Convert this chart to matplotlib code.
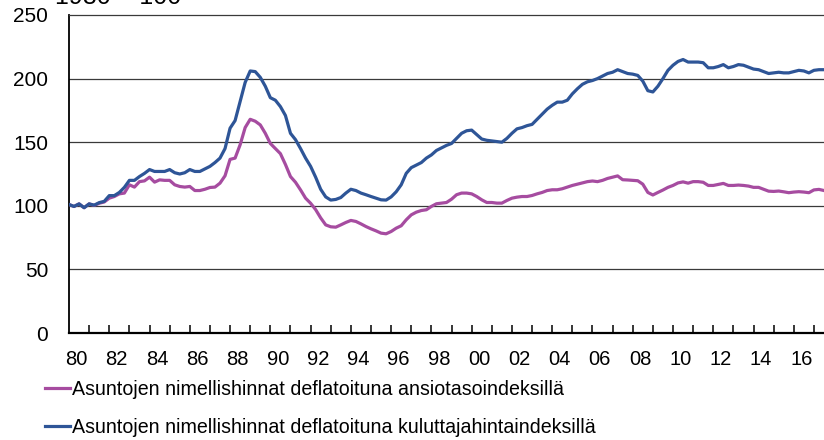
import matplotlib
matplotlib.use("Agg")
import matplotlib.pyplot as plt
from matplotlib import font_manager
from matplotlib.lines import Line2D
import numpy as np

# FONTS (ARIAL / ARIAL NARROW LOOK-ALIKES)
names = {f.name for f in font_manager.fontManager.ttflist}
regular = "Liberation Sans" if "Liberation Sans" in names else "DejaVu Sans"
narrow = "Liberation Sans Narrow" if "Liberation Sans Narrow" in names else regular

# DATA : QUARTERLY INDEX 1980 = 100 , 1980Q1 - 2017Q3
start_year = 1980
# deflated with earnings index (ansiotasoindeksi)
earn = [101, 99.5, 101.5, 98.5,
        101.5, 100.3, 102, 103,
        106, 107.3, 109.4, 110,
        116.5, 114.7, 119, 119.6,
        122.5, 118.6, 120.4, 120,
        120, 116.5, 115.2, 114.7,
        115.2, 112, 112, 113,
        114.4, 114.7, 117.8, 123.6,
        136.5, 137.5, 148, 161.5,
        168, 166.5, 163.6, 157,
        149, 145, 141, 132.5,
        123, 118.5, 112.5, 106,
        102, 97, 90.5, 85,
        83.5, 83.2, 85, 86.9,
        88.5, 87.7, 85.8, 83.7,
        81.9, 80.3, 78.5, 78,
        79.8, 82.4, 84.3, 89,
        92.9, 95, 96.3, 96.9,
        99.5, 101.6, 102.1, 102.6,
        105.2, 108.7, 110, 110,
        109.4, 107.3, 104.7, 102.6,
        102.6, 102.1, 102.1, 104.2,
        106, 106.8, 107.3, 107.3,
        108.1, 109.4, 110.5, 112,
        112.6, 112.6, 113.4, 114.7,
        116, 117, 118, 119,
        119.5, 119, 120, 121.5,
        122.5, 123.5, 120.5, 120.3,
        120, 119.7, 117, 110.5,
        108.5, 110.5, 112.4, 114.5,
        116, 118, 118.8, 117.8,
        119, 119, 118.5, 116,
        116, 116.8, 117.6, 116,
        116, 116.3, 116, 115.5,
        114.5, 114.5, 113, 111.5,
        111.3, 111.6, 111, 110.3,
        110.8, 111.1, 110.8, 110.3,
        112.5, 112.9, 112]
# deflated with consumer price index (kuluttajahintaindeksi)
cpi = [101, 99.5, 101.5, 98.5,
       101.5, 100.5, 102.5, 103.5,
       108, 108, 110.5, 114.5,
       120, 120, 123, 125.5,
       128.5, 127, 127, 127,
       128.5, 126, 125, 126,
       128.5, 127, 127, 129,
       131, 134, 137.5, 145,
       161, 167, 182, 197,
       206, 205.5, 201, 194,
       185, 183, 178, 171,
       157, 152, 145, 137.5,
       131, 122.5, 113, 107,
       104.5, 105, 106.5, 110,
       113, 112, 110, 108.7,
       107.3, 106, 104.7, 104.5,
       107, 111, 116.5, 125.5,
       130, 132, 134, 137.5,
       140, 143.5, 145.5, 147.5,
       149, 153, 157, 159,
       159.5, 156, 152.5, 151.5,
       151, 150.5, 150, 153,
       157, 160.5, 161.5, 163,
       164, 168, 172, 176,
       179, 181.5, 181.5, 183,
       188, 192, 195.5, 197.5,
       198.5, 200, 202, 204,
       205, 207, 205.5, 204,
       203.5, 202.5, 198, 190.5,
       189.5, 194, 200, 206.5,
       210.5, 213.5, 215, 213,
       213, 213, 212.5, 208.5,
       208.5, 209.5, 211, 208.5,
       209.5, 211, 210.5, 209,
       207.5, 207, 205.5, 204,
       204.5, 205, 204.5, 204.5,
       205.5, 206.5, 206, 204.5,
       206.5, 207, 207]

label_earn = "Asuntojen nimellishinnat deflatoituna ansiotasoindeksillä"
label_cpi = "Asuntojen nimellishinnat deflatoituna kuluttajahintaindeksillä"
year_labels = ["80", "82", "84", "86", "88", "90", "92", "94", "96", "98",
               "00", "02", "04", "06", "08", "10", "12", "14", "16"]
yticks = [0, 50, 100, 150, 200, 250]

col_earn = "#A64CA0"
col_cpi = "#2E5597"

# TIME AXIS
t = start_year + np.arange(len(cpi)) / 4.0

W, H = 824, 440
fig = plt.figure(figsize=(W / 100, H / 100), dpi=100)
ax = fig.add_axes([69 / W, 1 - 333 / H, 1 - 69 / W, (333 - 15) / H])

ax.plot(t, earn, color=col_earn, lw=2.3, solid_joinstyle="round", zorder=3)
ax.plot(t, cpi, color=col_cpi, lw=2.3, solid_joinstyle="round", zorder=3)

ax.set_xlim(start_year, t[-1])
ax.set_ylim(0, 250)

# GRID
for v in yticks[1:-1]:
    ax.axhline(v, color="#3a3a3a", lw=0.9, zorder=1)

# SPINES
ax.spines["right"].set_visible(False)
ax.spines["top"].set_linewidth(0.9)
ax.spines["top"].set_color("#3a3a3a")
ax.spines["left"].set_linewidth(1.3)
ax.spines["bottom"].set_linewidth(1.6)

# Y TICKS
ax.set_yticks(yticks)
ax.set_yticklabels([str(v) for v in yticks], fontsize=15, family=regular)
ax.tick_params(axis="y", length=0, pad=15)

# X TICKS : MARKS EVERY YEAR, LABELS EVERY 2 YEARS
years = np.arange(start_year + 1, 2018)
ax.set_xticks(years)
ax.set_xticklabels([])
ax.tick_params(axis="x", which="major", direction="in", length=6, width=1.1)
lab_pos = start_year + 2 * np.arange(len(year_labels)) + 0.37
ax.set_xticks(lab_pos, minor=True)
ax.set_xticklabels(year_labels, minor=True, fontsize=14.5, family=narrow)
ax.tick_params(axis="x", which="minor", length=0, pad=12)

# INDEX BASE TEXT (CUT AT TOP, AS IN THE SOURCE)
fig.text(55 / W, 1 - 3.5 / H, "1980 = 100", fontsize=18, family=regular,
         ha="left", va="baseline")

# LEGEND BELOW
h1 = Line2D([0], [0], color=col_earn, lw=2.3)
h2 = Line2D([0], [0], color=col_cpi, lw=2.3)
leg = fig.legend([h1, h2], [label_earn, label_cpi], loc="upper left",
                 bbox_to_anchor=(45 / W, 1 - 380 / H), frameon=False,
                 handlelength=1.3, handletextpad=0.1, borderpad=0,
                 borderaxespad=0, labelspacing=0.95,
                 prop={"family": narrow, "size": 14.1})

fig.savefig("out.png", dpi=100)
